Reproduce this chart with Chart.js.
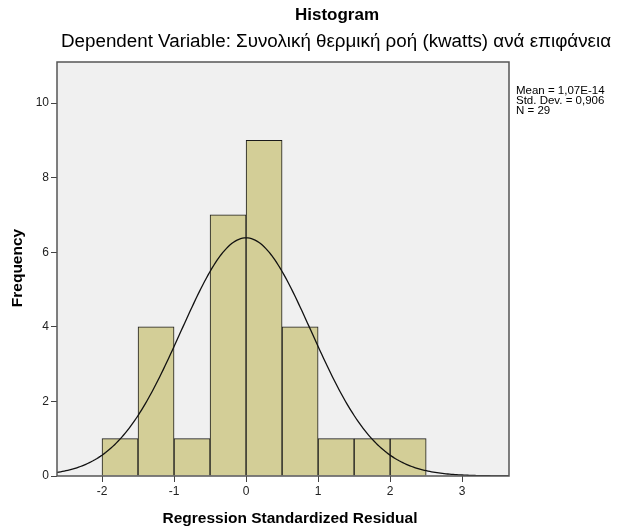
<!DOCTYPE html>
<html>
<head>
<meta charset="utf-8">
<script src="https://cdn.jsdelivr.net/npm/chart.js@4/dist/chart.umd.min.js"></script>
<style>
    html, body { margin: 0; padding: 0; background: #ffffff; }
    #wrap { width: 617px; height: 530px; }
</style>
</head>
<body>
<div id="wrap"><canvas id="histChart" width="617" height="530"></canvas></div>
<script>
// residual bins (left edge of each 0.5-wide bin) and their counts
const binStarts = [-2, -1.5, -1, -0.5, 0, 0.5, 1, 1.5, 2];
const binCounts = [1, 4, 1, 7, 9, 4, 1, 1, 1];
const binWidth = 0.5;

// summary stats printed next to the plot
const statMean = 1.07e-14;
const statSd = 0.906;
const statN = 29;
const statLines = ['Mean = 1,07E-14', 'Std. Dev. = 0,906', 'N = 29'];

const xTicks = [-2, -1, 0, 1, 2, 3];
const yTicks = [0, 2, 4, 6, 8, 10];
const xRange = [-2.625, 3.65];
const yRange = [0, 11.1];

const FONT = '"Liberation Sans", Arial, sans-serif';

// bars sit on the bin centres
const barPoints = binStarts.map((s, i) => ({ x: s + binWidth / 2, y: binCounts[i] }));

// normal curve scaled to counts (N * bin width * density)
const curvePoints = [];
for (let x = xRange[0]; x <= xRange[1] + 1e-9; x += 0.025) {
    const z = (x - statMean) / statSd;
    const dens = Math.exp(-0.5 * z * z) / (statSd * Math.sqrt(2 * Math.PI));
    curvePoints.push({ x: x, y: statN * binWidth * dens });
}

const decorPlugin = {
    id: 'decor',
    beforeDatasetsDraw(chart) {
        const { ctx, chartArea: a } = chart;
        ctx.save();
        ctx.fillStyle = '#f0f0f0';
        ctx.fillRect(a.left, a.top, a.right - a.left, a.bottom - a.top);
        ctx.restore();
    },
    afterDraw(chart) {
        const { ctx, chartArea: a } = chart;
        ctx.save();
        ctx.strokeStyle = '#555555';
        ctx.lineWidth = 1.5;
        ctx.strokeRect(a.left, a.top, a.right - a.left, a.bottom - a.top);

        ctx.fillStyle = '#000000';
        ctx.textAlign = 'center';
        ctx.textBaseline = 'middle';
        ctx.font = 'bold 17px ' + FONT;
        ctx.fillText('Histogram', 337, 15);
        ctx.font = '18.8px ' + FONT;
        ctx.fillText('Dependent Variable: Συνολική θερμική ροή (kwatts) ανά επιφάνεια', 336, 42);

        ctx.font = 'bold 15.5px ' + FONT;
        ctx.fillText('Regression Standardized Residual', 290, 519);

        ctx.save();
        ctx.translate(18, 268);
        ctx.rotate(-Math.PI / 2);
        ctx.fillText('Frequency', 0, 0);
        ctx.restore();

        ctx.textAlign = 'left';
        ctx.font = '11.5px ' + FONT;
        statLines.forEach((t, i) => ctx.fillText(t, 516, 91 + i * 10));
        ctx.restore();
    }
};

const ctx = document.getElementById('histChart').getContext('2d');
new Chart(ctx, {
    type: 'bar',
    data: {
        datasets: [
            {
                type: 'line',
                data: curvePoints,
                borderColor: '#111111',
                borderWidth: 1.3,
                pointRadius: 0,
                tension: 0,
                fill: false,
                order: 0
            },
            {
                type: 'bar',
                data: barPoints,
                backgroundColor: '#d3ce97',
                borderColor: '#1a1a1a',
                borderWidth: 1,
                barPercentage: 1,
                categoryPercentage: 1,
                order: 1
            }
        ]
    },
    options: {
        responsive: false,
        animation: false,
        layout: { padding: { left: 0, top: 62, right: 108, bottom: 0 } },
        plugins: {
            legend: { display: false },
            tooltip: { enabled: false }
        },
        scales: {
            x: {
                type: 'linear',
                offset: false,
                min: xRange[0],
                max: xRange[1],
                afterBuildTicks: (scale) => { scale.ticks = xTicks.map(v => ({ value: v })); },
                afterFit: (scale) => { scale.height = 54; },
                grid: { display: true, offset: false, drawOnChartArea: false, tickLength: 6, color: '#444444' },
                border: { display: false },
                ticks: { color: '#222222', font: { family: FONT, size: 12 }, padding: 2, maxRotation: 0 }
            },
            y: {
                type: 'linear',
                min: yRange[0],
                max: yRange[1],
                afterBuildTicks: (scale) => { scale.ticks = yTicks.map(v => ({ value: v })); },
                afterFit: (scale) => { scale.width = 57; },
                grid: { display: true, drawOnChartArea: false, tickLength: 6, color: '#444444' },
                border: { display: false },
                ticks: { color: '#222222', font: { family: FONT, size: 12 }, padding: 2 }
            }
        }
    },
    plugins: [decorPlugin]
});
</script>
</body>
</html>
